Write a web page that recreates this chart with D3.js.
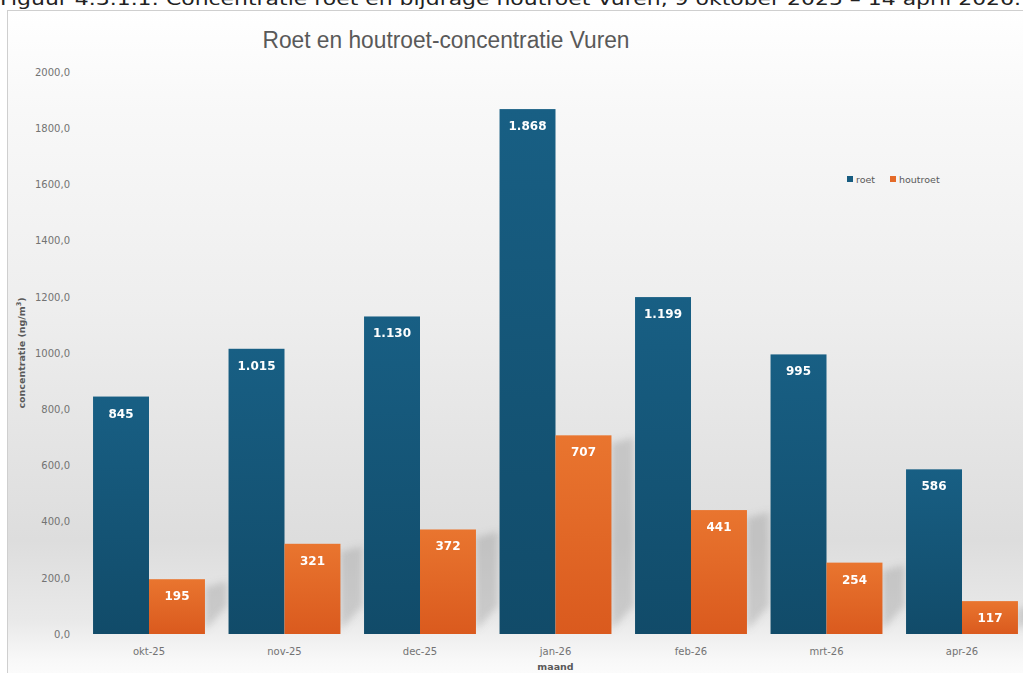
<!DOCTYPE html>
<html><head><meta charset="utf-8">
<script src="https://cdn.jsdelivr.net/npm/d3@7"></script>
<style>html,body{margin:0;padding:0;background:#fff;overflow:hidden}</style>
</head><body>
<svg id="c" width="1023" height="673"></svg>
<script>
const categories = ["okt-25","nov-25","dec-25","jan-26","feb-26","mrt-26","apr-26"];
const seriesNames = ["roet","houtroet"];
const roet = [845, 1015, 1130, 1868, 1199, 995, 586];
const houtroet = [195, 321, 372, 707, 441, 254, 117];
const yTicks = [0,200,400,600,800,1000,1200,1400,1600,1800,2000];
const caption = "Figuur  4.3.1.1: Concentratie roet en bijdrage houtroet Vuren, 9 oktober 2025 – 14 april 2026.";
const title = "Roet en houtroet-concentratie Vuren";

const svg = d3.select("#c");
const defs = svg.append("defs");

const bg = defs.append("linearGradient").attr("id","bg").attr("gradientUnits","userSpaceOnUse")
  .attr("x1",0).attr("y1",10).attr("x2",0).attr("y2",673);
[[0,"#ffffff"],[0.15,"#f8f8f8"],[0.45,"#eeeeee"],[0.8,"#dddddd"],[0.92,"#e9e9e9"],[0.98,"#f8f8f8"],[1,"#fbfbfb"]]
  .forEach(([o,c])=>bg.append("stop").attr("offset",o).attr("stop-color",c));
const gb = defs.append("linearGradient").attr("id","gBlue").attr("x1",0).attr("y1",0).attr("x2",0).attr("y2",1);
gb.append("stop").attr("offset",0).attr("stop-color","#185f84");
gb.append("stop").attr("offset",1).attr("stop-color","#114b69");
const go = defs.append("linearGradient").attr("id","gOrange").attr("x1",0).attr("y1",0).attr("x2",0).attr("y2",1);
go.append("stop").attr("offset",0).attr("stop-color","#e9752f");
go.append("stop").attr("offset",1).attr("stop-color","#da5a1e");
defs.append("filter").attr("id","blur").attr("x","-50%").attr("y","-50%").attr("width","200%").attr("height","200%")
  .append("feGaussianBlur").attr("stdDeviation",3.5);

svg.append("rect").attr("x",7.5).attr("y",10.5).attr("width",1030).attr("height",700)
  .attr("fill","url(#bg)").attr("stroke","#cfcfcf").attr("stroke-width",1);

svg.append("text").attr("x",0).attr("y",5).attr("font-family","DejaVu Sans").attr("font-size",18)
  .attr("fill","#222").attr("textLength",1021).attr("lengthAdjust","spacingAndGlyphs").text(caption);

const y = d3.scaleLinear().domain([0,2000]).range([634,72]);
const x0 = d3.scaleBand().domain(categories).range([81.25,1029.75]).paddingInner(0.174).paddingOuter(0.087);
const x1 = d3.scaleBand().domain(seriesNames).range([0,x0.bandwidth()]).padding(0);

svg.append("text").attr("x",446).attr("y",48).attr("text-anchor","middle")
  .attr("font-family","Liberation Sans Narrow, Liberation Sans").attr("font-size",23).attr("fill","#595959")
  .attr("textLength",367).attr("lengthAdjust","spacingAndGlyphs").text(title);

const yAxis = d3.axisLeft(y).tickValues(yTicks).tickSize(0).tickPadding(0)
  .tickFormat(d=>d3.format(".1f")(d).replace(".",","));
const ya = svg.append("g").attr("transform","translate(70,0)").call(yAxis);
ya.select(".domain").remove();
ya.selectAll("text").attr("font-family","DejaVu Sans").attr("font-size",10).attr("fill","#737373").attr("dy","0.32em");

const xAxis = d3.axisBottom(x0).tickSize(0).tickPadding(0);
const xa = svg.append("g").attr("transform","translate(0,648)").call(xAxis);
xa.select(".domain").remove();
xa.selectAll("text").attr("font-family","DejaVu Sans").attr("font-size",10).attr("fill","#737373").attr("dy","0.71em");

svg.append("text").attr("x",555.5).attr("y",670).attr("text-anchor","middle")
  .attr("font-family","DejaVu Sans").attr("font-weight","bold").attr("font-size",9.5).attr("fill","#595959").text("maand");
const yt = svg.append("text").attr("transform","translate(25,353) rotate(-90)").attr("text-anchor","middle")
  .attr("font-family","DejaVu Sans").attr("font-weight","bold").attr("font-size",9.5).attr("fill","#595959");
yt.append("tspan").text("concentratie (ng/m");
yt.append("tspan").attr("font-size",6.5).attr("dy",-4).text("3");
yt.append("tspan").attr("dy",4).text(")");

const rows = categories.map((c,i)=>({cat:c, roet:roet[i], houtroet:houtroet[i]}));
const fills = {roet:"url(#gBlue)", houtroet:"url(#gOrange)"};
const fmt = v => d3.format(",")(v).replace(/,/g,".");

svg.append("g").attr("filter","url(#blur)").selectAll("path").data(rows).join("path")
  .attr("d",d=>{
    const xr = x0(d.cat)+x1("houtroet")+x1.bandwidth();
    const top = y(d.houtroet), bot = y(0);
    return `M${xr},${top+8} L${xr+22},${top+2} L${xr+22},${Math.max(top+14,bot-28)} L${xr},${bot-4}Z`;
  })
  .attr("fill","#8a8a8a").attr("opacity",0.32);

const groups = svg.append("g").selectAll("g").data(rows).join("g")
  .attr("transform",d=>`translate(${x0(d.cat)},0)`);
groups.selectAll("rect").data(d=>seriesNames.map(k=>({k, v:d[k]}))).join("rect")
  .attr("x",d=>x1(d.k)).attr("width",x1.bandwidth())
  .attr("y",d=>y(d.v)).attr("height",d=>y(0)-y(d.v))
  .attr("fill",d=>fills[d.k]);
groups.selectAll("text").data(d=>seriesNames.map(k=>({k, v:d[k]}))).join("text")
  .attr("x",d=>x1(d.k)+x1.bandwidth()/2).attr("y",d=>y(d.v)+21)
  .attr("text-anchor","middle").attr("font-family","DejaVu Sans").attr("font-weight","bold")
  .attr("font-size",12).attr("fill","#ffffff").text(d=>fmt(d.v));

const legendColors = {roet:"#175c80", houtroet:"#e46a28"};
const legendX = {roet:847, houtroet:890};
const lg = svg.append("g");
seriesNames.forEach(k=>{
  lg.append("rect").attr("x",legendX[k]).attr("y",176).attr("width",6).attr("height",6).attr("fill",legendColors[k]);
  lg.append("text").attr("x",legendX[k]+9).attr("y",183).attr("font-family","DejaVu Sans").attr("font-size",9.5)
    .attr("fill","#595959").text(k);
});
</script>
</body></html>
